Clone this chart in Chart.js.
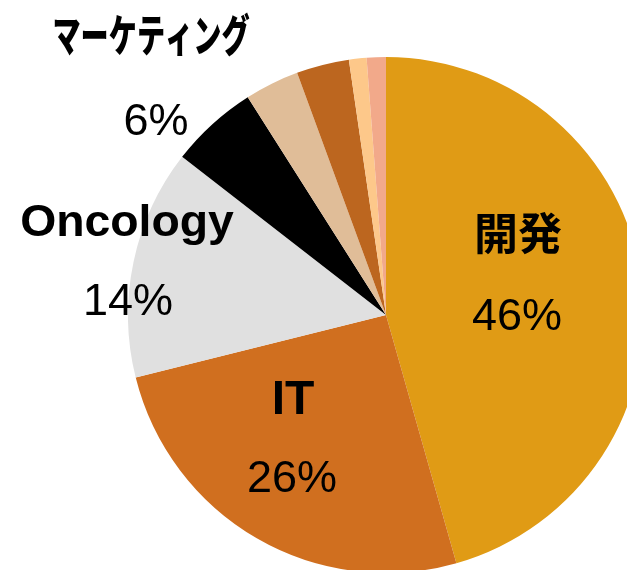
<!DOCTYPE html>
<html>
<head>
<meta charset="utf-8">
<script src="https://cdn.jsdelivr.net/npm/chart.js@4"></script>
<style>
  html, body { margin: 0; padding: 0; background: #fff; overflow: hidden; width: 627px; height: 570px; }
  #wrap { position: absolute; left: 0; top: 0; width: 680px; height: 620px; }
</style>
</head>
<body>
<div id="wrap"><canvas id="c" width="680" height="620"></canvas></div>
<script>
const categories = ["開発", "IT", "Oncology", "マーケティング", "その他A", "その他B", "その他C", "その他D"];
const shares = [45.6, 25.5, 14.4, 5.5, 3.4, 3.3, 1.1, 1.2];
const shownPct = ["46%", "26%", "14%", "6%", "", "", "", ""];
const sliceColors = ["#E09B15", "#D06F1F", "#E0E0E0", "#000000", "#E0BD98", "#BC661F", "#FDC88A", "#F2A98A"];

// label placement (pixels) for the four labelled slices
const labelLayout = [
  { name: { x: 518, y: 250, font: "bold 44px 'Noto Sans CJK JP'", sx: 1 }, pct: { x: 517, y: 330 } },
  { name: { x: 293, y: 414, font: "bold 48px 'Liberation Sans'", sx: 1 }, pct: { x: 292, y: 492 } },
  { name: { x: 127, y: 236, font: "bold 45px 'Liberation Sans'", sx: 1.03 }, pct: { x: 128, y: 315 } },
  { name: { x: 151, y: 52, font: "900 44px 'Noto Sans CJK JP'", sx: 0.64 }, pct: { x: 156, y: 135 } }
];

const labelPlugin = {
  id: 'sliceLabels',
  afterDraw(chart) {
    const ctx = chart.ctx;
    ctx.save();
    ctx.fillStyle = '#000';
    ctx.textAlign = 'center';
    ctx.textBaseline = 'alphabetic';
    labelLayout.forEach((L, i) => {
      ctx.save();
      ctx.font = L.name.font;
      ctx.translate(L.name.x, L.name.y);
      ctx.scale(L.name.sx, 1);
      ctx.fillText(categories[i], 0, 0);
      ctx.restore();
      ctx.font = "45px 'Liberation Sans'";
      ctx.fillText(shownPct[i], L.pct.x, L.pct.y);
    });
    ctx.restore();
  }
};

new Chart(document.getElementById('c'), {
  type: 'pie',
  data: {
    labels: categories,
    datasets: [{
      data: shares,
      backgroundColor: sliceColors,
      borderWidth: 0
    }]
  },
  options: {
    responsive: false,
    animation: false,
    layout: { padding: { left: 128, top: 57, right: 680 - 644, bottom: 620 - 573 } },
    plugins: {
      legend: { display: false },
      tooltip: { enabled: false }
    }
  },
  plugins: [labelPlugin]
});
</script>
</body>
</html>
